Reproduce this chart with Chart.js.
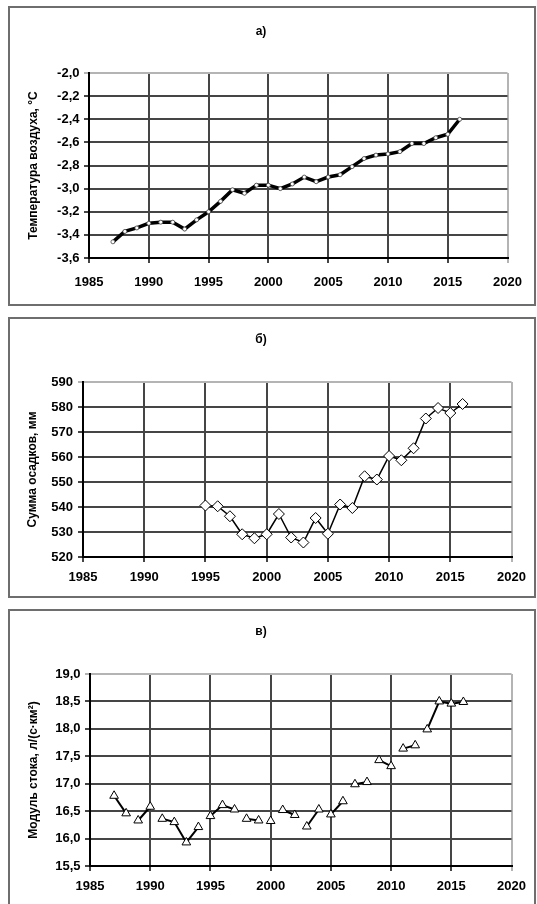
<!DOCTYPE html>
<html><head><meta charset="utf-8">
<script src="https://cdn.jsdelivr.net/npm/chart.js@4/dist/chart.umd.min.js"></script>
<style>
html,body{margin:0;padding:0;background:#fff;width:537px;height:904px;overflow:hidden;}
.panel{position:absolute;border:2px solid #6e6e6e;box-sizing:border-box;background:#fff;}
canvas{position:absolute;}
</style></head><body>
<div class="panel" style="left:8px;top:6px;width:528px;height:300px"></div>
<div class="panel" style="left:8px;top:317px;width:528px;height:281px"></div>
<div class="panel" style="left:8px;top:609px;width:528px;height:310px"></div>
<canvas id="ca" style="left:10px;top:8px;width:524px;height:297px" width="524" height="297"></canvas>
<canvas id="cb" style="left:10px;top:319px;width:524px;height:277px" width="524" height="277"></canvas>
<canvas id="cc" style="left:10px;top:611px;width:524px;height:293px" width="524" height="293"></canvas>
<script>
// ---- data ----
const yearsTemp = [1987,1988,1989,1990,1991,1992,1993,1994,1995,1996,1997,1998,1999,2000,2001,2002,2003,2004,2005,2006,2007,2008,2009,2010,2011,2012,2013,2014,2015,2016];
const tempValues = [-3.46,-3.37,-3.34,-3.30,-3.29,-3.29,-3.35,-3.27,-3.20,-3.11,-3.01,-3.04,-2.97,-2.97,-3.00,-2.96,-2.90,-2.94,-2.90,-2.88,-2.81,-2.74,-2.71,-2.70,-2.68,-2.61,-2.61,-2.56,-2.53,-2.40];

const yearsPrecip = [1995,1996,1997,1998,1999,2000,2001,2002,2003,2004,2005,2006,2007,2008,2009,2010,2011,2012,2013,2014,2015,2016];
const precipValues = [540.6,540.3,536.3,529.1,527.5,529.1,537.2,527.8,525.8,535.6,529.3,541.0,539.6,552.3,551.0,560.4,558.7,563.5,575.4,579.6,577.6,581.2];

const yearsRunoff = [1987,1988,1989,1990,1991,1992,1993,1994,1995,1996,1997,1998,1999,2000,2001,2002,2003,2004,2005,2006,2007,2008,2009,2010,2011,2012,2013,2014,2015,2016];
const runoffValues = [16.78,16.46,16.33,16.58,16.36,16.30,15.93,16.21,16.41,16.61,16.53,16.36,16.33,16.32,16.52,16.43,16.22,16.53,16.44,16.68,16.99,17.03,17.43,17.32,17.64,17.70,17.99,18.50,18.46,18.49];
// years whose connecting segment to the next year is not drawn in panel в)
const runoffGapStarts = [1988,1990,1994,1997,1999,2000,2002,2004,2006,2008,2010,2012];

const panelTitles = ['а)','б)','в)'];
const yTitles = ['Температура воздуха, °С','Сумма осадков, мм','Модуль стока, л/(с·км²)'];
const xTicks = {min:1985, max:2020, step:5};

const FONT = '"Liberation Sans", Arial, sans-serif';

function makeChart(id, o){
  const pts = o.years.map((x,i)=>({x:x, y:o.values[i]}));
  return new Chart(document.getElementById(id), {
    type:'line',
    data:{datasets:[Object.assign({
      data:pts,
      borderColor:'#000',
      borderWidth:o.lineWidth,
      pointStyle:o.pointStyle,
      pointRadius:o.pointRadius,
      pointBackgroundColor:'#fff',
      pointBorderColor:o.pointBorderColor||'#000',
      pointBorderWidth:o.pointBorderWidth||1,
      tension:0,
      clip:false
    }, o.extra||{})]},
    options:{
      responsive:false, animation:false,
      layout:{padding:{left:0,right:o.padRight,top:0,bottom:0}},
      plugins:{
        legend:{display:false}, tooltip:{enabled:false},
        title:{display:true, text:o.title, color:'#000',
          font:{family:FONT, size:12, weight:'bold', lineHeight:1.2},
          padding:{top:o.titleTop, bottom:o.titleBottom}}
      },
      scales:{
        x:{type:'linear', min:xTicks.min, max:xTicks.max,
          afterFit:s=>{s.height=o.xHeight;},
          ticks:{stepSize:xTicks.step, color:'#000', padding:o.xPad, maxRotation:0, autoSkip:false,
            font:{family:FONT, size:13, weight:'bold'}, callback:v=>String(v)},
          grid:{color:c=>(c.tick && c.tick.value===xTicks.max)?'#b4b4b4':'#454545', lineWidth:2, tickLength:5},
          border:{display:true, color:'#000', width:2}
        },
        y:{type:'linear', min:o.ymin, max:o.ymax,
          afterFit:s=>{s.width=o.yWidth;},
          ticks:{stepSize:o.ystep, color:'#000', padding:o.yPad,
            font:{family:FONT, size:13, weight:'bold'}, callback:o.yFmt},
          grid:{color:c=>(c.tick && Math.abs(c.tick.value-o.ymax)<1e-9)?'#b4b4b4':'#454545', lineWidth:2, tickLength:5},
          border:{display:true, color:'#000', width:2},
          title:{display:true, text:o.yTitle, color:'#000',
            font:{family:FONT, size:12, weight:'bold', lineHeight:1.2},
            padding:{top:o.yTitleTop, bottom:0}}
        }
      }
    }
  });
}

const comma1 = v => Number(v).toFixed(1).replace('.', ',');

makeChart('ca', {years:yearsTemp, values:tempValues, title:panelTitles[0], yTitle:yTitles[0],
  lineWidth:3.5, pointStyle:'circle', pointRadius:2, pointBorderColor:'#444', pointBorderWidth:0.8,
  padRight:22, titleTop:16.8, titleBottom:33.8, xHeight:47, xPad:12,
  ymin:-3.6, ymax:-2.0, ystep:0.2, yWidth:79, yPad:4.5, yTitleTop:16.8, yFmt:comma1});

makeChart('cb', {years:yearsPrecip, values:precipValues, title:panelTitles[1], yTitle:yTitles[1],
  lineWidth:1.5, pointStyle:'rectRot', pointRadius:5.5, pointBorderWidth:1,
  padRight:22, titleTop:13.8, titleBottom:34.8, xHeight:39, xPad:8,
  ymin:520, ymax:590, ystep:10, yWidth:73, yPad:5, yTitleTop:15.3, yFmt:v=>String(v)});

makeChart('cc', {years:yearsRunoff, values:runoffValues, title:panelTitles[2], yTitle:yTitles[2],
  lineWidth:2, pointStyle:'triangle', pointRadius:5, pointBorderWidth:1,
  padRight:22, titleTop:13.8, titleBottom:34.8, xHeight:38, xPad:8,
  ymin:15.5, ymax:19.0, ystep:0.5, yWidth:80, yPad:4.5, yTitleTop:16.8, yFmt:comma1,
  extra:{segment:{borderColor:c=>runoffGapStarts.includes(c.p0.parsed.x)?'rgba(0,0,0,0)':'#000'}}});
</script>
</body></html>
